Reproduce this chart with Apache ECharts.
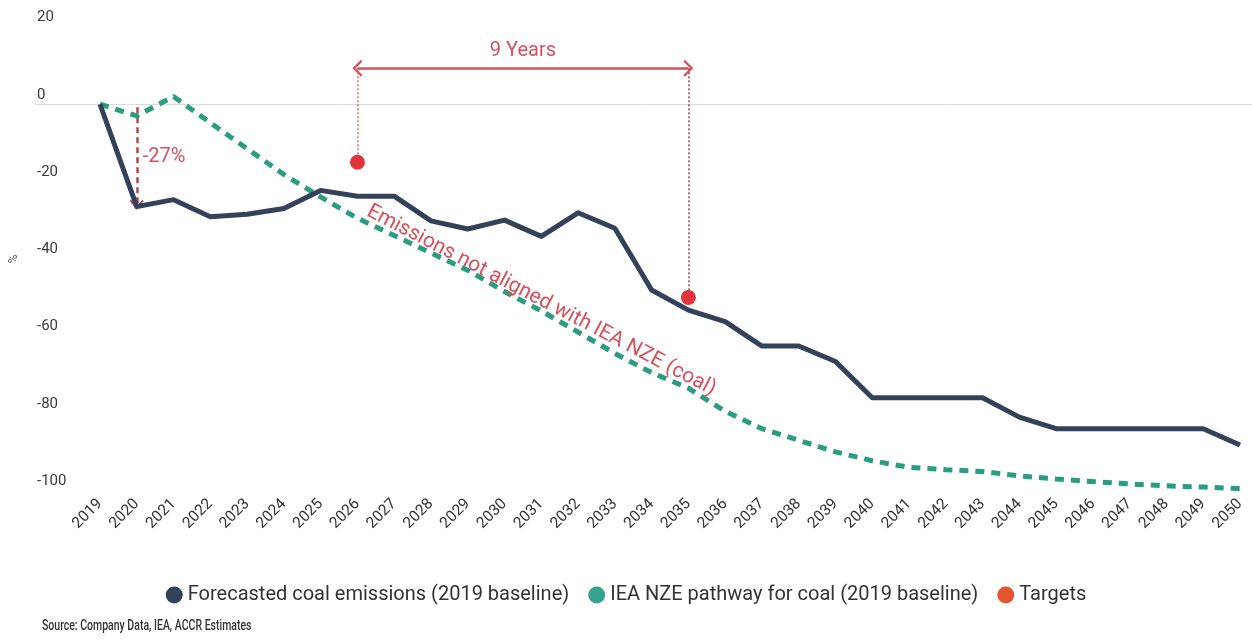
<!DOCTYPE html>
<html><head><meta charset="utf-8">
<script src="https://cdn.jsdelivr.net/npm/echarts@6/dist/echarts.min.js"></script>
<style>html,body{margin:0;padding:0;background:#fff}#c{width:1252px;height:641px}</style>
</head><body><div id="c"></div>
<script>
// ---- data ----
const years = ['2019','2020','2021','2022','2023','2024','2025','2026','2027','2028','2029','2030','2031','2032','2033','2034','2035','2036','2037','2038','2039','2040','2041','2042','2043','2044','2045','2046','2047','2048','2049','2050'];
const forecast = [0,-26.5,-24.7,-29.1,-28.5,-27,-22.3,-23.8,-23.8,-30.2,-32.3,-30,-34.2,-28.1,-32.1,-48.1,-53.3,-56.3,-62.6,-62.6,-66.6,-76,-76,-76,-76,-81,-84,-84,-84,-84,-84,-88.2];
const ieaPathway = [0,-3,2,-4.8,-11.5,-18.2,-24,-29.5,-34,-38.5,-43,-48.5,-53.5,-59,-64.5,-69.5,-73.5,-79.5,-84,-87,-90,-92.3,-94,-94.6,-95.1,-96.2,-97,-97.7,-98.3,-98.8,-99.1,-99.5];
const targetYears = ['2026','2035'];
const targetValues = [-15,-50];
const seriesNames = ['Forecasted coal emissions (2019 baseline)','IEA NZE pathway for coal (2019 baseline)','Targets'];
const yMin = -100, yMax = 20, yStep = 20;
// annotations
const gapText = '9 Years', gapLevel = 9.3;
const dropYear = '2020', dropText = '-27%', dropFrom = -0.8, dropTo = -26, dropTextLevel = -13.7;
const noteText = 'Emissions not aligned with IEA NZE (coal)', noteYear = '2031', noteLevel = -50.8;
const sourceText = 'Source: Company Data, IEA, ACCR Estimates';

const RED = '#d9505a';
const chevron = 'path://M0,12 L12,0 L24,12 L21.5,14 L12,4.5 L2.5,14 Z';
const FONT = 'Roboto';

const chart = echarts.init(document.getElementById('c'), null, {renderer:'canvas'});
chart.setOption({
  animation: false,
  textStyle: {fontFamily: FONT},
  graphic: [{
    type: 'text', x: 42, y: 619, scaleX: 0.75, silent: true,
    style: {text: sourceText, fontSize: 14, fontWeight: 500, fill: '#333', fontFamily: FONT}
  }],
  legend: {
    top: 580, left: 'center', icon: 'circle', itemWidth: 17, itemHeight: 17, itemGap: 19,
    textStyle: {fontSize: 20, color: '#333', fontFamily: FONT},
    data: seriesNames
  },
  grid: {left: 97, right: 12, top: 27, bottom: 150.5},
  xAxis: {
    type: 'category', data: years, boundaryGap: false,
    axisLine: {show: false}, axisTick: {show: false}, splitLine: {show: false},
    axisLabel: {interval: 0, rotate: 45, margin: 11, fontSize: 15.5, color: '#333', fontFamily: FONT}
  },
  yAxis: {
    type: 'value', min: yMin, max: yMax, interval: yStep,
    name: '%', nameLocation: 'middle', nameGap: 80, nameRotate: 90,
    nameTextStyle: {fontSize: 12, color: '#555'},
    axisLine: {show: false}, axisTick: {show: false}, splitLine: {show: false},
    axisLabel: {align: 'left', margin: 63, verticalAlign: 'bottom', padding: [0,0,2,0], fontSize: 15, color: '#3a3a3a', fontFamily: FONT}
  },
  series: [
    {
      name: seriesNames[0], type: 'line', data: forecast, showSymbol: false, symbol: 'none',
      z: 4,
      lineStyle: {color: '#34415a', width: 5, join: 'round'}, itemStyle: {color: '#34415a'},
      markLine: {
        silent: true, symbol: 'none', animation: false, z: 1,
        label: {show: false},
        lineStyle: {color: '#dcdcdc', width: 1, type: 'solid'},
        data: [[{x: 35, yAxis: 0}, {x: '100%', yAxis: 0}]]
      }
    },
    {
      name: seriesNames[1], type: 'line', data: ieaPathway, showSymbol: false, symbol: 'none',
      z: 3,
      lineStyle: {color: '#2a9d80', width: 5, type: [9, 7]}, itemStyle: {color: '#36a38e'}
    },
    {
      name: seriesNames[2], type: 'scatter',
      data: targetYears.map((y, i) => ({value: [y, targetValues[i]], itemStyle: {color: '#e2343c', opacity: 1}})),
      symbolSize: 15, itemStyle: {color: '#e4562e', opacity: 1}, z: 5,
      markLine: {
        silent: true, animation: false, z: 2,
        data: [
          [
            {coord: [targetYears[0], gapLevel], symbol: chevron, symbolSize: [17, 10],
             lineStyle: {color: RED, width: 2.5, type: 'solid'},
             label: {show: true, position: 'middle', formatter: gapText, color: RED, fontSize: 20, distance: 7, fontFamily: FONT}},
            {coord: [targetYears[1], gapLevel], symbol: chevron, symbolSize: [17, 10]}
          ],
          [
            {coord: [targetYears[0], gapLevel], symbol: 'none', lineStyle: {color: '#e0606a', width: 1.5, type: [2, 2]}, label: {show: false}},
            {coord: [targetYears[0], targetValues[0]], symbol: 'none'}
          ],
          [
            {coord: [targetYears[1], gapLevel], symbol: 'none', lineStyle: {color: '#7a4a4e', width: 1.5, type: [2, 2]}, label: {show: false}},
            {coord: [targetYears[1], targetValues[1]], symbol: 'none'}
          ],
          [
            {coord: [dropYear, dropFrom], symbol: 'none', lineStyle: {color: '#b5474f', width: 2.5, type: [6, 4]}, label: {show: false}},
            {coord: [dropYear, dropTo], symbol: chevron, symbolSize: [14, 10]}
          ]
        ]
      },
      markPoint: {
        silent: true, animation: false, symbol: 'circle', symbolSize: 0,
        data: [
          {coord: [dropYear, dropTextLevel],
           label: {show: true, position: 'right', distance: 6, formatter: dropText, color: RED, fontSize: 20, fontFamily: FONT}},
          {coord: [noteYear, noteLevel],
           label: {show: true, position: 'inside', rotate: -27.5, formatter: noteText, color: RED, fontSize: 21, fontFamily: FONT}}
        ]
      }
    }
  ]
});
</script></body></html>
